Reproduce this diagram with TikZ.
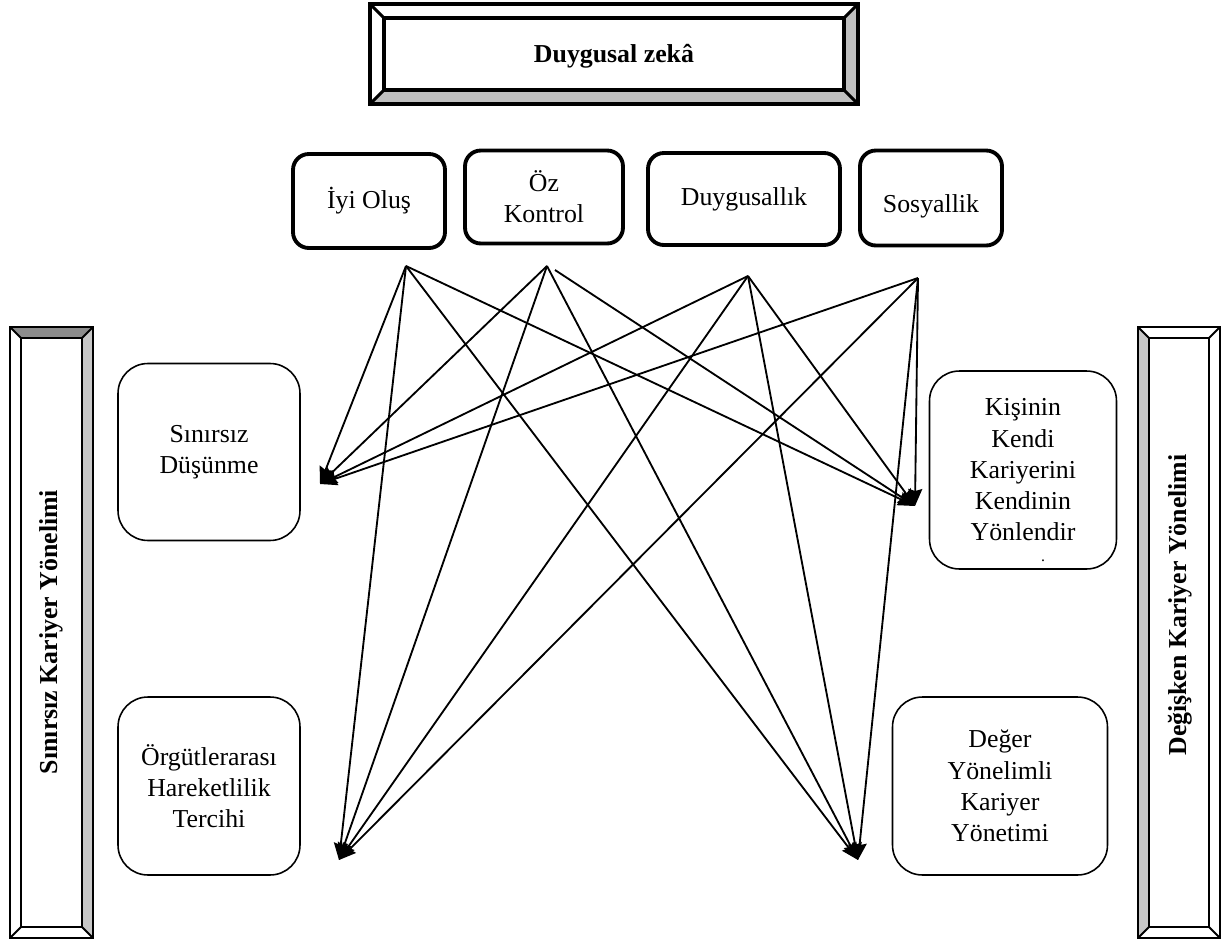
\documentclass[tikz,border=0pt]{standalone}
\usepackage{fontspec}
\setmainfont{Liberation Serif}
\usetikzlibrary{arrows.meta}
\tikzset{
  bevelline/.style={line width=1pt},
  factor/.style={draw, rounded corners=9pt, line width=2.2pt, align=center,
    font=\fontsize{14.7}{17.8}\selectfont},          % top row boxes
  dimbox/.style={draw, rounded corners=17pt, line width=0.9pt, align=center,
    font=\fontsize{14.7}{17.8}\selectfont},          % career dimensions
  sidelabel/.style={rotate=90, font=\bfseries\fontsize{14.7}{17.8}\selectfont},
  link/.style={-{Stealth[length=3.4mm,width=2.8mm,inset=0.4mm]}, line width=1.05pt}
}
\newcommand{\BevelFrame}[9]{% #1,#2 = upper left, #3,#4 = lower right, #5 = bevel, #6-#9 = top/right/bottom/left fill
  \fill[#6] (#1,#2) -- (#3,#2) -- ({#3-#5},{#2+#5}) -- ({#1+#5},{#2+#5}) -- cycle;
  \fill[#7] (#3,#2) -- (#3,#4) -- ({#3-#5},{#4-#5}) -- ({#3-#5},{#2+#5}) -- cycle;
  \fill[#8] (#3,#4) -- (#1,#4) -- ({#1+#5},{#4-#5}) -- ({#3-#5},{#4-#5}) -- cycle;
  \fill[#9] (#1,#4) -- (#1,#2) -- ({#1+#5},{#2+#5}) -- ({#1+#5},{#4-#5}) -- cycle;
  \draw[bevelline] (#1,#2) rectangle (#3,#4);
  \draw[bevelline] ({#1+#5},{#2+#5}) rectangle ({#3-#5},{#4-#5});
  \draw[bevelline] (#1,#2) -- ({#1+#5},{#2+#5}) (#3,#2) -- ({#3-#5},{#2+#5})
    (#3,#4) -- ({#3-#5},{#4-#5}) (#1,#4) -- ({#1+#5},{#4-#5});
}

\begin{document}
\begin{tikzpicture}[x=0.02cm, y=-0.02cm]
  \useasboundingbox (0,0) rectangle (1232,940);

  % Emotional intelligence frame
  \begin{scope}[bevelline/.style={line width=1.8pt}]
    \BevelFrame{370}{4}{858}{104}{14}{white}{black!25}{black!25}{white}
  \end{scope}
  \node[font=\bfseries\fontsize{14.7}{17.8}\selectfont] (title) at (614,56) {Duygusal zekâ};

  % Side frames
  \begin{scope}[bevelline/.style={line width=1.1pt}]
    \BevelFrame{10}{327}{93}{938}{11}{black!45}{black!22}{white}{white}
    \BevelFrame{1138}{327}{1220}{938}{11}{white}{white}{white}{black!22}
  \end{scope}
  \node[sidelabel] (boundless) at (51,632) {Sınırsız Kariyer Yönelimi};
  \node[sidelabel] (protean) at (1180,605) {Değişken Kariyer Yönelimi};

  % Emotional intelligence factors
  \node[factor, minimum width=3.04cm, minimum height=1.88cm] (iyi) at (369,201) {İyi Oluş};
  \node[factor, minimum width=3.16cm, minimum height=1.86cm] (oz) at (544,197) {Öz\\Kontrol};
  \node[factor, minimum width=3.84cm, minimum height=1.84cm] (duy) at (744,199) {Duygusallık};
  \node[factor, minimum width=2.84cm, minimum height=1.90cm, text height=20pt] (sos) at (931,198) {Sosyallik};

  % Career orientation dimensions
  \node[dimbox, minimum width=3.64cm, minimum height=3.54cm] (sinirsiz) at (209,452) {Sınırsız\\Düşünme};
  \node[dimbox, minimum width=3.64cm, minimum height=3.56cm] (orgut) at (209,786) {Örgütlerarası\\Hareketlilik\\Tercihi};
  \node[dimbox, minimum width=3.74cm, minimum height=3.96cm] (kisi) at (1023,470)
    {Kişinin\\Kendi\\Kariyerini\\Kendinin\\Yönlendir};
  \node[font=\fontsize{9}{9}\selectfont, inner sep=0pt] (kisidot) at (1043,561) {.};
  \node[dimbox, minimum width=4.30cm, minimum height=3.56cm] (deger) at (1000,786) {Değer\\Yönelimli\\Kariyer\\Yönetimi};

  % Arrow ends
  \coordinate (sA) at (406,266);
  \coordinate (sB) at (547,266);
  \coordinate (sB2) at (555,270);
  \coordinate (sC) at (748,276);
  \coordinate (sD) at (918,278);
  \coordinate (tSin) at (320,484);
  \coordinate (tOrg) at (339,860);
  \coordinate (tKis) at (915,506);
  \coordinate (tDeg) at (858,860);

  \foreach \s in {sA,sB,sC,sD}{
    \draw[link] (\s) -- (tSin);
    \draw[link] (\s) -- (tOrg);
    \draw[link] (\s) -- (tDeg);
  }
  \foreach \s in {sA,sB2,sC,sD}
    \draw[link] (\s) -- (tKis);
\end{tikzpicture}
\end{document}
